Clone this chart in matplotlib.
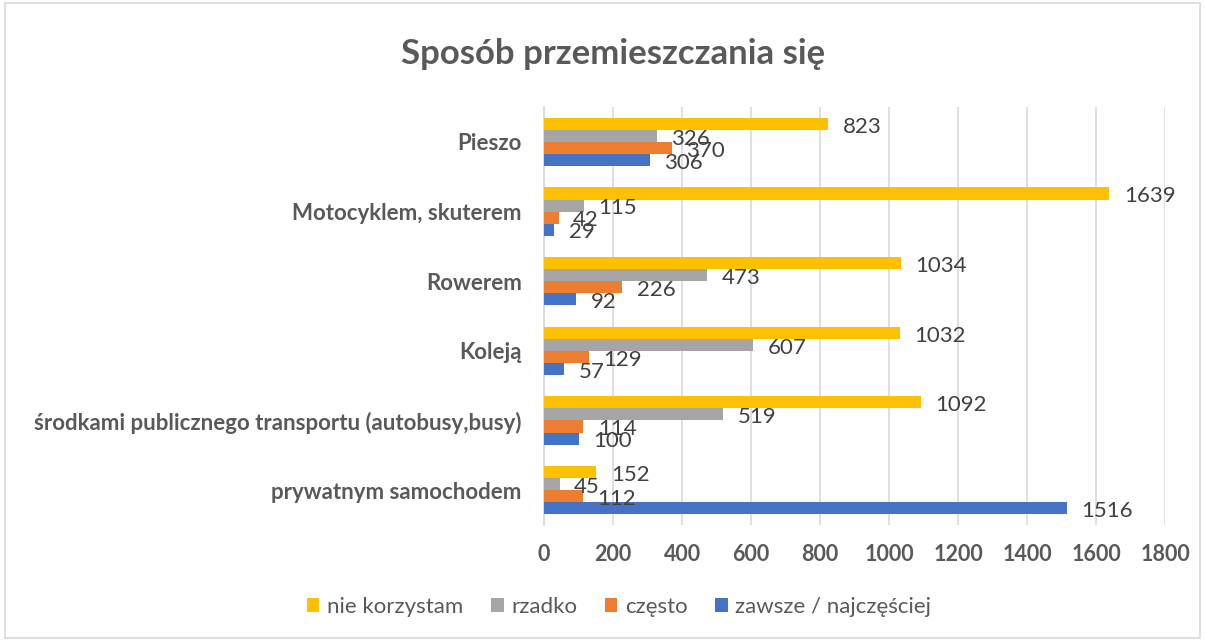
import matplotlib
matplotlib.use("Agg")
import matplotlib.pyplot as plt
import numpy as np
from matplotlib.patches import Rectangle

plt.rcParams["font.family"] = ["Lato", "DejaVu Sans"]

categories = [
    "prywatnym samochodem",
    "środkami publicznego transportu (autobusy,busy)",
    "Koleją",
    "Rowerem",
    "Motocyklem, skuterem",
    "Pieszo",
]
series_names = ["zawsze / najczęściej", "często", "rzadko", "nie korzystam"]
zawsze = [1516, 100, 57, 92, 29, 306]
czesto = [112, 114, 129, 226, 42, 370]
rzadko = [45, 519, 607, 473, 115, 326]
nie_korzystam = [152, 1092, 1032, 1034, 1639, 823]
colors = ["#4472C4", "#ED7D31", "#A5A5A5", "#FFC000"]
x_ticks = [0, 200, 400, 600, 800, 1000, 1200, 1400, 1600, 1800]

text_gray = "#595959"
label_gray = "#404040"

fig = plt.figure(figsize=(12.05, 6.41), dpi=100)
fig.patches.append(Rectangle((0.004, 0.004), 0.992, 0.992, transform=fig.transFigure,
                             fill=False, edgecolor="#D9D9D9", linewidth=1.2))
ax = fig.add_axes([0.4515, 0.181, 0.5153, 0.652])

y = np.arange(len(categories))
bar_h = 0.1725
all_series = [zawsze, czesto, rzadko, nie_korzystam]
for i, (vals, name, color) in enumerate(zip(all_series, series_names, colors)):
    pos = y + (i - 1.5) * bar_h
    ax.barh(pos, vals, height=bar_h, color=color, label=name, zorder=3)
    for p, v in zip(pos, vals):
        ax.annotate(str(v), (v, p), xytext=(10.5, -2), textcoords="offset points",
                    ha="left", va="center", fontsize=16, color=label_gray, zorder=4)

ax.set_xlim(0, 1800)
ax.set_ylim(-0.5, len(categories) - 0.5)
ax.set_xticks(x_ticks)
ax.set_xticklabels([str(t) for t in x_ticks], fontsize=15.5, fontweight="bold", color=text_gray)
ax.set_yticks(y)
ax.set_yticklabels(categories, fontsize=16, fontweight="bold", color=text_gray)
ax.tick_params(axis="both", length=0)
ax.tick_params(axis="x", pad=14)
ax.tick_params(axis="y", pad=16)
ax.grid(axis="x", color="#D9D9D9", linewidth=1.2, zorder=0)
for side in ["top", "right", "bottom"]:
    ax.spines[side].set_visible(False)
ax.spines["left"].set_color("#D9D9D9")
ax.spines["left"].set_linewidth(1.2)

fig.text(0.509, 0.915, "Sposób przemieszczania się", ha="center", va="center",
         fontsize=25, fontweight="bold", color=text_gray)

handles, labels = ax.get_legend_handles_labels()
fig.legend(handles[::-1], labels[::-1], loc="center", bbox_to_anchor=(0.514, 0.053),
           ncol=4, frameon=False, fontsize=16, handlelength=0.55, handleheight=0.55,
           handletextpad=0.35, columnspacing=1.25, labelcolor=text_gray)

fig.savefig("out.png", dpi=100)
